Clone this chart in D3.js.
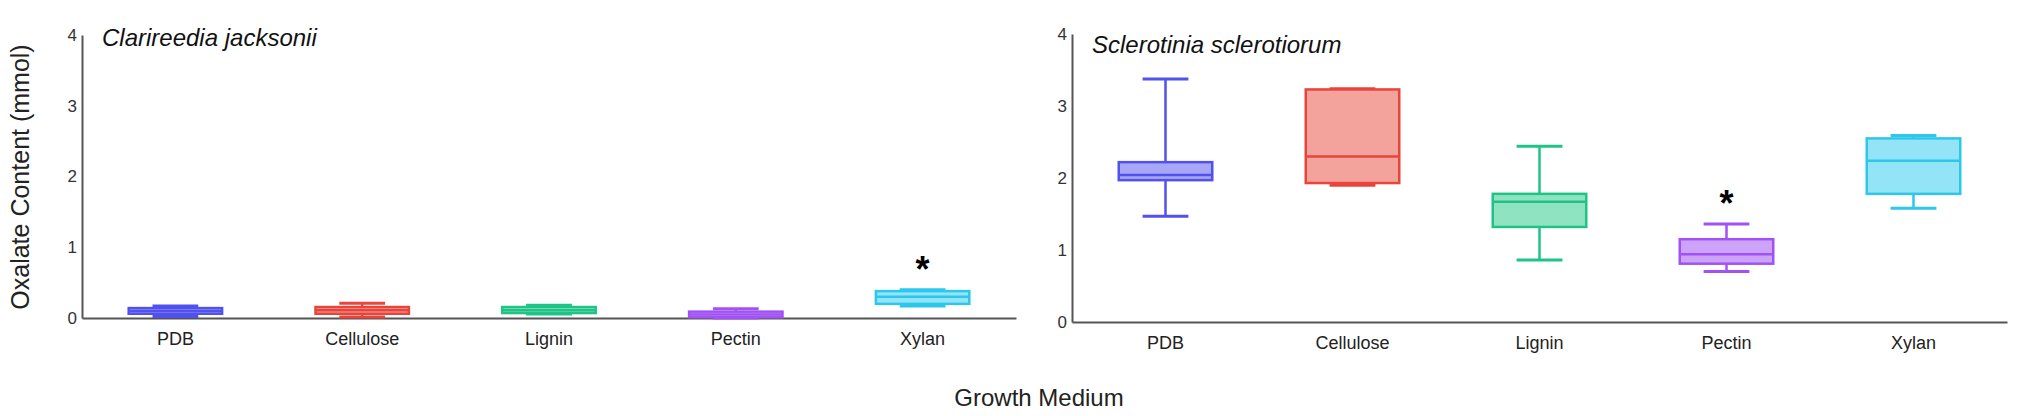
<!DOCTYPE html>
<html>
<head>
<meta charset="utf-8">
<script src="https://cdn.jsdelivr.net/npm/d3@7"></script>
<style>
  body { margin: 0; background: #fff; }
  text { font-family: "Liberation Sans", Arial, sans-serif; }
</style>
</head>
<body>
<script>
var media = ['PDB', 'Cellulose', 'Lignin', 'Pectin', 'Xylan'];
var yTicks = [0, 1, 2, 3, 4];

// Clarireedia jacksonii: min, q1, median, q3, max
var cjMin = [0.02, 0.015, 0.055, 0.00, 0.17];
var cjQ1 = [0.06, 0.06, 0.07, 0.01, 0.20];
var cjMed = [0.10, 0.11, 0.11, 0.05, 0.30];
var cjQ3 = [0.14, 0.155, 0.155, 0.09, 0.38];
var cjMax = [0.17, 0.21, 0.18, 0.13, 0.40];
var cjStar = ['Xylan'];

// Sclerotinia sclerotiorum
var ssMin = [1.47, 1.90, 0.86, 0.70, 1.58];
var ssQ1 = [1.97, 1.93, 1.32, 0.81, 1.78];
var ssMed = [2.04, 2.30, 1.67, 0.94, 2.24];
var ssQ3 = [2.22, 3.23, 1.78, 1.15, 2.55];
var ssMax = [3.375, 3.24, 2.44, 1.36, 2.59];
var ssStar = ['Pectin'];

var strokeColors = ['#5151ef', '#e8443b', '#1fc386', '#a152f5', '#2dc6ec'];
var fillColors = ['#a7a7f6', '#f3a29c', '#90e3c1', '#cda2f9', '#94e4f8'];

var screen = {width: 2031, height: 416};

var svg = d3.select('body').append('svg')
    .attr('width', screen.width)
    .attr('height', screen.height)
    .style('display', 'block');

var colors = d3.scaleOrdinal().domain(media).range(strokeColors);
var fills = d3.scaleOrdinal().domain(media).range(fillColors);

function drawPanel(opts) {
  var rows = media.map(function(m, i) {
    return {name: m, min: opts.min[i], q1: opts.q1[i], med: opts.med[i], q3: opts.q3[i], max: opts.max[i]};
  });

  // scale
  var xScale = d3.scaleBand()
      .domain(media)
      .range([opts.left, opts.right]);

  var yScale = d3.scaleLinear()
      .domain([0, 4])
      .range([opts.bottom, opts.top]);

  var g = svg.append('g');
  var bw = xScale.bandwidth() * 0.5;
  var cw = xScale.bandwidth() * 0.245;

  // axes
  var xAxis = d3.axisBottom(xScale).tickSize(0).tickPadding(14);
  g.append('g')
      .attr('transform', 'translate(0,' + opts.bottom + ')')
      .call(xAxis)
      .call(function(a) {
        a.select('.domain').attr('stroke', '#555').attr('stroke-width', 2);
        a.selectAll('text').attr('font-size', 18).attr('fill', '#222')
          .style('font-family', '"Liberation Sans", Arial, sans-serif');
      });

  var yAxis = d3.axisLeft(yScale).tickValues(yTicks).tickSize(0).tickPadding(5)
      .tickFormat(d3.format('d'));
  g.append('g')
      .attr('transform', 'translate(' + opts.left + ',0)')
      .call(yAxis)
      .call(function(a) {
        a.select('.domain').attr('stroke', '#555').attr('stroke-width', 2);
        a.selectAll('text').attr('font-size', 17).attr('fill', '#333')
          .style('font-family', '"Liberation Sans", Arial, sans-serif');
      });

  var box = g.selectAll('.box')
      .data(rows)
      .enter()
      .append('g')
      .attr('class', 'box')
      .attr('transform', function(d) { return 'translate(' + (xScale(d.name) + xScale.bandwidth() / 2) + ',0)'; });

  // whiskers
  box.append('line')
      .attr('x1', 0).attr('x2', 0)
      .attr('y1', function(d) { return yScale(d.max); })
      .attr('y2', function(d) { return yScale(d.q3); })
      .attr('stroke', function(d) { return colors(d.name); })
      .attr('stroke-width', 2.5);
  box.append('line')
      .attr('x1', 0).attr('x2', 0)
      .attr('y1', function(d) { return yScale(d.q1); })
      .attr('y2', function(d) { return yScale(d.min); })
      .attr('stroke', function(d) { return colors(d.name); })
      .attr('stroke-width', 2.5);

  // caps
  box.selectAll('.cap')
      .data(function(d) { return [{name: d.name, v: d.max}, {name: d.name, v: d.min}]; })
      .enter()
      .append('line')
      .attr('class', 'cap')
      .attr('x1', -cw / 2).attr('x2', cw / 2)
      .attr('y1', function(d) { return yScale(d.v); })
      .attr('y2', function(d) { return yScale(d.v); })
      .attr('stroke', function(d) { return colors(d.name); })
      .attr('stroke-width', 3);

  // rects
  box.append('rect')
      .attr('x', -bw / 2)
      .attr('width', bw)
      .attr('y', function(d) { return yScale(d.q3); })
      .attr('height', function(d) { return yScale(d.q1) - yScale(d.q3); })
      .attr('fill', function(d) { return fills(d.name); })
      .attr('stroke', function(d) { return colors(d.name); })
      .attr('stroke-width', 2.5);

  // median
  box.append('line')
      .attr('x1', -bw / 2).attr('x2', bw / 2)
      .attr('y1', function(d) { return yScale(d.med); })
      .attr('y2', function(d) { return yScale(d.med); })
      .attr('stroke', function(d) { return colors(d.name); })
      .attr('stroke-width', 2.5);

  // significance
  g.selectAll('.star')
      .data(rows.filter(function(d) { return opts.star.indexOf(d.name) > -1; }))
      .enter()
      .append('text')
      .attr('class', 'star')
      .attr('text-anchor', 'middle')
      .attr('x', function(d) { return xScale(d.name) + xScale.bandwidth() / 2; })
      .attr('y', function(d) { return yScale(d.max) - 8; })
      .attr('font-size', 36)
      .attr('font-weight', 'bold')
      .text('*');

  // title
  g.append('text')
      .attr('x', opts.left + opts.titleDx)
      .attr('y', opts.top + opts.titleDy)
      .attr('font-size', 24)
      .attr('font-style', 'italic')
      .attr('fill', '#111')
      .text(opts.title);
}

drawPanel({
  left: 82, right: 1016, top: 35, bottom: 318,
  min: cjMin, q1: cjQ1, med: cjMed, q3: cjQ3, max: cjMax, star: cjStar,
  title: 'Clarireedia jacksonii', titleDx: 20, titleDy: 11
});

drawPanel({
  left: 1072, right: 2007, top: 34, bottom: 322,
  min: ssMin, q1: ssQ1, med: ssMed, q3: ssQ3, max: ssMax, star: ssStar,
  title: 'Sclerotinia sclerotiorum', titleDx: 20, titleDy: 19
});

// axis titles
svg.append('text')
    .attr('transform', 'translate(29,177) rotate(-90)')
    .attr('text-anchor', 'middle')
    .attr('font-size', 25)
    .attr('fill', '#222')
    .text('Oxalate Content (mmol)');

svg.append('text')
    .attr('x', 1039)
    .attr('y', 406)
    .attr('text-anchor', 'middle')
    .attr('font-size', 24)
    .attr('fill', '#222')
    .text('Growth Medium');
</script>
</body>
</html>
